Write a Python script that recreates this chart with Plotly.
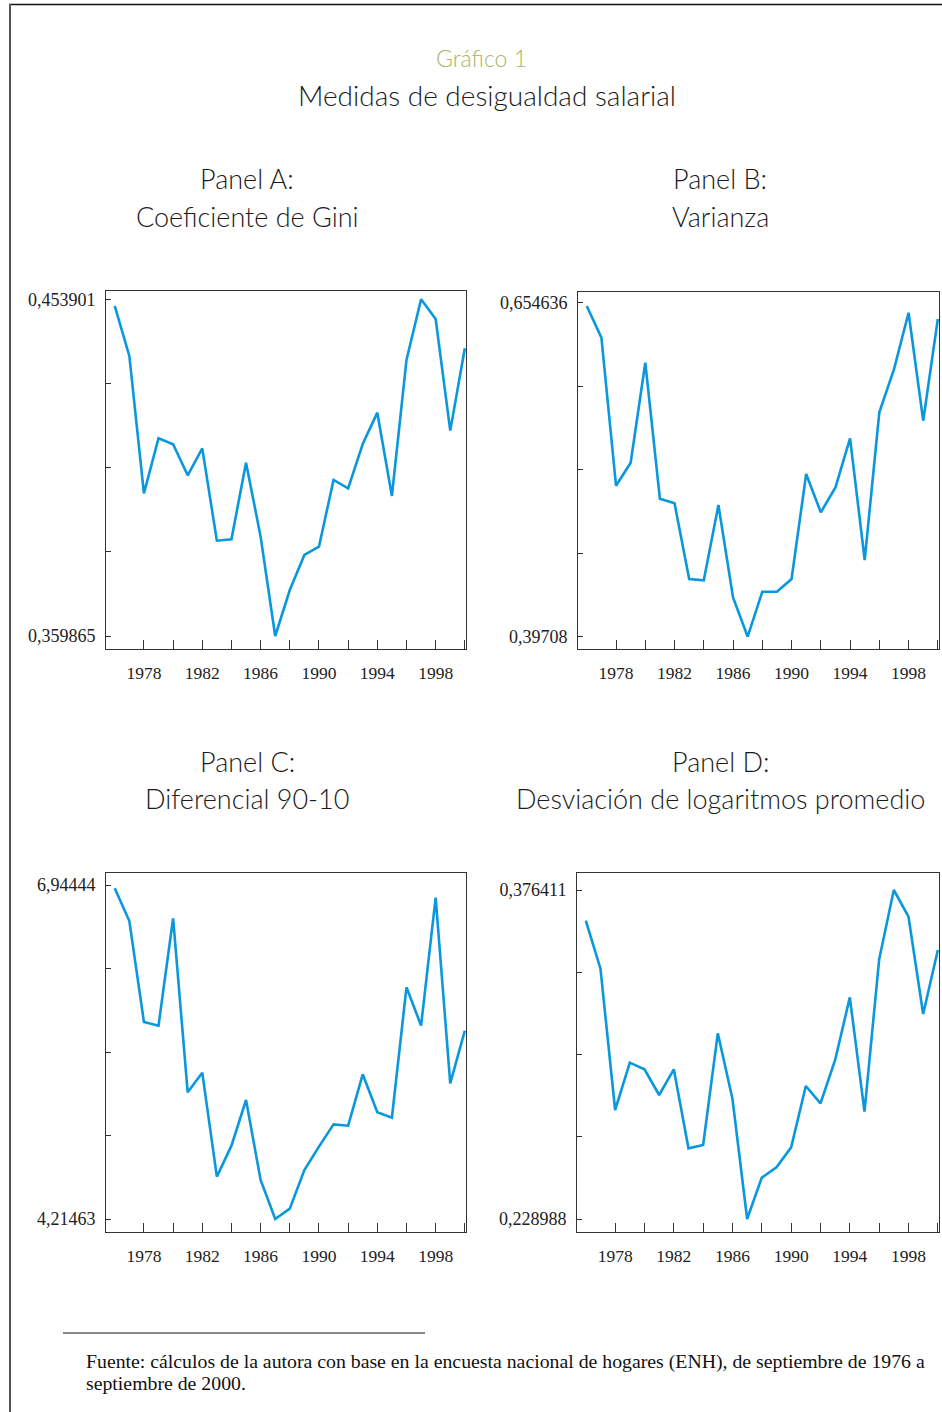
import plotly.graph_objects as go

W, H = 942, 1412

years = list(range(1976, 2001))

gini = [0.45204, 0.43807, 0.39971, 0.41508, 0.41340, 0.40474, 0.41228, 0.38649,
        0.38687, 0.40828, 0.38761, 0.359865, 0.37271, 0.38249, 0.38482, 0.40344,
        0.40111, 0.41349, 0.42224, 0.39897, 0.43696, 0.453901, 0.44841, 0.41722,
        0.44022]

varianza = [0.65206, 0.62765, 0.51352, 0.53125, 0.60837, 0.50349, 0.49990, 0.44155,
            0.44052, 0.49861, 0.42741, 0.39708, 0.43178, 0.43178, 0.44155, 0.52252,
            0.49296, 0.51223, 0.55002, 0.45620, 0.57007, 0.60323, 0.64692, 0.56364,
            0.64204]

dif9010 = [6.9172, 6.6502, 5.8247, 5.7948, 6.6720, 5.2499, 5.4106, 4.5606,
           4.8140, 5.1872, 4.5334, 4.21463, 4.2991, 4.6151, 4.8058, 4.9883,
           4.9774, 5.3970, 5.0864, 5.0428, 6.1081, 5.7948, 6.8409, 5.3234,
           5.7539]

desvlog = [0.36267, 0.34116, 0.27783, 0.29904, 0.29605, 0.28455, 0.29605, 0.26065,
           0.26215, 0.31218, 0.28276, 0.228988, 0.24751, 0.25214, 0.26110, 0.28858,
           0.28082, 0.30023, 0.32831, 0.27708, 0.34534, 0.376411, 0.36446, 0.32085,
           0.34952]

# axis tick labels (min / max shown on each panel)
ylims = {
    "A": (0.359865, 0.453901, "0,359865", "0,453901"),
    "B": (0.39708, 0.654636, "0,39708", "0,654636"),
    "C": (4.21463, 6.94444, "4,21463", "6,94444"),
    "D": (0.228988, 0.376411, "0,228988", "0,376411"),
}
xtick_years = list(range(1978, 2001, 2))
xlabel_years = [1978, 1982, 1986, 1990, 1994, 1998]

panel_titles = {
    "A": ("Panel A:", "Coeficiente de Gini"),
    "B": ("Panel B:", "Varianza"),
    "C": ("Panel C:", "Diferencial 90-10"),
    "D": ("Panel D:", "Desviación de logaritmos promedio"),
}

# pixel geometry of each plot frame: (left, right, top, bottom, tick_top_px, tick_bottom_px)
frames = {
    "A": (106, 466, 291, 649, 299.3, 636.0),
    "B": (578, 939, 292, 649, 302.7, 636.7),
    "C": (106, 466, 873, 1232, 885.0, 1219.0),
    "D": (577, 939, 873, 1232, 890.0, 1219.0),
}

BLUE = "#0a97dc"
SERIF = "Liberation Serif"
SANS = "Lato"

fig = go.Figure()
series = {"A": gini, "B": varianza, "C": dif9010, "D": desvlog}
names = ["A", "B", "C", "D"]

for i, k in enumerate(names):
    idx = "" if i == 0 else str(i + 1)
    left, right, top, bottom, ttop, tbot = frames[k]
    lo, hi, lo_txt, hi_txt = ylims[k]
    per_px = (hi - lo) / (tbot - ttop)
    yr = [lo - (bottom - tbot) * per_px, hi + (ttop - top) * per_px]

    fig.add_trace(go.Scatter(x=years, y=series[k], mode="lines",
                             line=dict(color=BLUE, width=2.6),
                             xaxis="x" + idx, yaxis="y" + idx,
                             showlegend=False, hoverinfo="skip"))

    yticks = [lo + j * (hi - lo) / 4 for j in range(5)]
    ytext = [lo_txt, "", "", "", hi_txt]
    xtext = [str(y) if y in xlabel_years else "" for y in xtick_years]

    fig.layout["xaxis" + idx] = dict(
        domain=[left / W, right / W], anchor="y" + idx,
        range=[1975.4, 2000.08], showgrid=False, zeroline=False,
        showline=True, linecolor="#333333", linewidth=1, mirror=True,
        ticks="inside", ticklen=9, tickcolor="#333333", tickwidth=1,
        tickvals=xtick_years, ticktext=xtext,
        tickfont=dict(family=SERIF, size=17.5, color="#222222"),
        ticklabelstandoff=8,
    )
    fig.layout["yaxis" + idx] = dict(
        domain=[1 - bottom / H, 1 - top / H], anchor="x" + idx,
        range=yr, showgrid=False, zeroline=False,
        showline=True, linecolor="#333333", linewidth=1, mirror=True,
        ticks="inside", ticklen=5, tickcolor="#333333", tickwidth=1,
        tickvals=yticks, ticktext=ytext,
        tickfont=dict(family=SERIF, size=18, color="#222222"),
        ticklabelstandoff=6,
    )

annotations = []
def ann(text, x, y, size, color="#1a1a1a", family=SANS, xanchor="center", weight=300):
    annotations.append(dict(text=text, x=x / W, y=1 - y / H, xref="paper", yref="paper",
                            showarrow=False, xanchor=xanchor, yanchor="middle", align="left",
                            font=dict(family=family, size=size, color=color, weight=weight)))

ann("Gráfico 1", 481, 58, 23, color="#a8b46a")
ann("Medidas de desigualdad salarial", 487, 95, 28)
for k, cx, y1 in [("A", 247, 179), ("B", 720, 179), ("C", 247, 761), ("D", 720, 761)]:
    ann(panel_titles[k][0], cx, y1, 27)
    ann(panel_titles[k][1], cx, y1 + 37, 27)

ann("Fuente: cálculos de la autora con base en la encuesta nacional de hogares (ENH), de septiembre de 1976 a",
    84, 1361, 19.8, family=SERIF, xanchor="left", color="#111111", weight=400)
ann("septiembre de 2000.", 84, 1383, 19.8, family=SERIF, xanchor="left", color="#111111", weight=400)

shapes = [
    dict(type="line", xref="paper", yref="paper", x0=9 / W, x1=1, y0=1 - 4.5 / H, y1=1 - 4.5 / H,
         line=dict(color="#111111", width=1.5)),
    dict(type="line", xref="paper", yref="paper", x0=10 / W, x1=10 / W, y0=0, y1=1 - 4 / H,
         line=dict(color="#555555", width=2)),
    dict(type="line", xref="paper", yref="paper", x0=63 / W, x1=425 / W, y0=1 - 1333 / H, y1=1 - 1333 / H,
         line=dict(color="#111111", width=1.2)),
]

fig.update_layout(
    width=W, height=H, margin=dict(l=0, r=0, t=0, b=0),
    paper_bgcolor="white", plot_bgcolor="white",
    annotations=annotations, shapes=shapes,
)

fig.write_html("out.html", config={"displayModeBar": False},
               post_script="document.body.style.margin='0';document.body.style.overflow='hidden';")
